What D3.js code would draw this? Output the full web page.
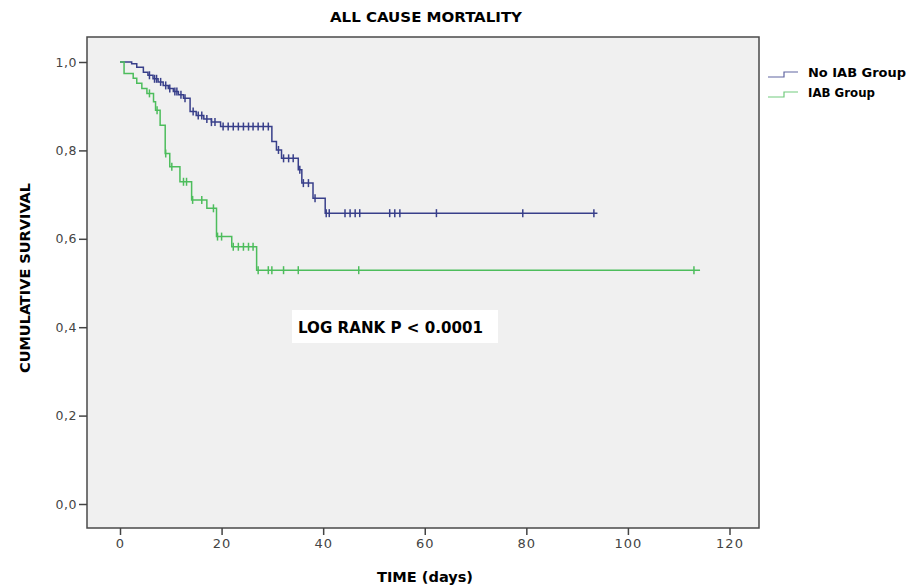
<html lang="en">
<head>
    <meta charset="UTF-8">
    <title>All cause mortality</title>
    <style>
        body { margin: 0; background: #fff; }
        .tick text { font-family: "DejaVu Sans", sans-serif; }
    </style>
</head>
<body>
    <script src="https://d3js.org/d3.v7.min.js"></script>
    <div id="my_dataviz"></div>
    <script>

        // Kaplan-Meier steps (time in days, survival after the drop)
        var noIabTimes = [0, 2.3, 3.3, 4.6, 5.5, 6.5, 7.5, 8.5, 9.5, 10.5, 11.5, 12.5, 13.8, 15, 16.5, 18, 19.8, 29.9, 30.8, 31.8, 35.1, 35.8, 38, 40.4]
        var noIabSurv = [1, 0.996, 0.988, 0.977, 0.97, 0.962, 0.955, 0.947, 0.94, 0.933, 0.926, 0.918, 0.888, 0.879, 0.871, 0.864, 0.854, 0.82, 0.801, 0.782, 0.756, 0.726, 0.692, 0.658]
        var noIabCensor = [5.8, 6.8, 7.2, 8.0, 9.0, 9.8, 10.8, 11.2, 12.0, 12.8, 14.4, 15.4, 16.1, 17.1, 18.0, 18.7, 20.3, 21.3, 22.3, 23.3, 24.3, 25.3, 26.2, 27.2, 28.2, 29.2, 31.2, 32.2, 33.2, 34.1, 35.4, 36.1, 37.1, 38.4, 40.6, 41.2, 44.3, 45.3, 46.3, 47.2, 53.1, 54.1, 55.1, 62.3, 79.3, 93.3]
        var noIabEnd = 94

        var iabTimes = [0, 0.8, 2.6, 3.3, 4.3, 5.3, 6.6, 7.0, 7.9, 8.9, 9.8, 11.8, 14.1, 17.1, 19, 22, 26.9]
        var iabSurv = [1, 0.974, 0.963, 0.952, 0.94, 0.929, 0.91, 0.891, 0.857, 0.793, 0.763, 0.729, 0.688, 0.669, 0.605, 0.582, 0.529]
        var iabCensor = [5.8, 7.3, 9.0, 10.2, 12.5, 13.1, 14.3, 16.1, 18.4, 19.2, 20.0, 22.3, 23.3, 24.3, 25.3, 26.2, 27.2, 29.2, 29.9, 32.2, 35.1, 47.0, 113.0]
        var iabEnd = 114.2

        var groupNames = ["No IAB Group", "IAB Group"]
        var groupColors = ["#383f8a", "#4dbd5c"]
        var xTicks = [0, 20, 40, 60, 80, 100, 120]
        var yTicks = [0, 0.2, 0.4, 0.6, 0.8, 1.0]

        var width = 912
        var height = 586

        var svg = d3.select("#my_dataviz")
            .append("svg")
            .attr("width", width)
            .attr("height", height)

        // plot frame in pixels (window.top is read-only, so other names)
        var plotLeft = 87, plotRight = 759, plotTop = 37, plotBottom = 528

        var x = d3.scaleLinear().domain([0, 120]).range([120, 729.5])
        var y = d3.scaleLinear().domain([0, 1]).range([504, 62])

        svg.append("rect")
            .attr("x", plotLeft).attr("y", plotTop)
            .attr("width", plotRight - plotLeft).attr("height", plotBottom - plotTop)
            .attr("fill", "#f0f0f0")
            .attr("stroke", "#4a4a4a")
            .attr("stroke-width", 1.5)

        // axes
        var xAxis = svg.append("g")
            .attr("transform", "translate(0," + plotBottom + ")")
            .call(d3.axisBottom(x).tickValues(xTicks).tickSize(7).tickPadding(4))
        xAxis.select(".domain").remove()
        xAxis.selectAll("line").attr("stroke", "#444").attr("stroke-width", 1.5)
        xAxis.selectAll("text").style("font-size", "13px").style("letter-spacing", "1px").attr("fill", "#444")

        var yAxis = svg.append("g")
            .attr("transform", "translate(" + plotLeft + ",0)")
            .call(d3.axisLeft(y).tickValues(yTicks).tickSize(8).tickPadding(2)
                .tickFormat(function (d) { return d3.format(".1f")(d).replace(".", ",") }))
        yAxis.select(".domain").remove()
        yAxis.selectAll("line").attr("stroke", "#444").attr("stroke-width", 1.5)
        yAxis.selectAll("text").style("font-size", "12.5px").style("letter-spacing", "0.5px").attr("fill", "#444")

        // step curves
        function stepPoints(times, surv, end) {
            var pts = times.map(function (t, i) { return [t, surv[i]] })
            pts.push([end, surv[surv.length - 1]])
            return pts
        }
        function survAt(times, surv, t) {
            var i = d3.bisectRight(times, t) - 1
            return surv[Math.max(i, 0)]
        }

        var line = d3.line()
            .x(function (d) { return x(d[0]) })
            .y(function (d) { return y(d[1]) })
            .curve(d3.curveStepAfter)

        var groups = [
            { times: noIabTimes, surv: noIabSurv, censor: noIabCensor, end: noIabEnd },
            { times: iabTimes, surv: iabSurv, censor: iabCensor, end: iabEnd }
        ]

        groups.forEach(function (g, gi) {
            svg.append("path")
                .datum(stepPoints(g.times, g.surv, g.end))
                .attr("d", line)
                .attr("fill", "none")
                .attr("stroke", groupColors[gi])
                .attr("stroke-width", 1.5)

            svg.selectAll("censor" + gi)
                .data(g.censor)
                .enter()
                .append("line")
                .attr("x1", function (d) { return x(d) })
                .attr("x2", function (d) { return x(d) })
                .attr("y1", function (d) { return y(survAt(g.times, g.surv, d)) - 4 })
                .attr("y2", function (d) { return y(survAt(g.times, g.surv, d)) + 4 })
                .attr("stroke", groupColors[gi])
                .attr("stroke-width", 1.5)
        })

        // texts
        svg.append("text")
            .attr("x", 426).attr("y", 22)
            .attr("text-anchor", "middle")
            .attr("textLength", 192).attr("lengthAdjust", "spacingAndGlyphs")
            .style("font-family", "'DejaVu Sans Condensed', sans-serif")
            .style("font-weight", "bold").style("font-size", "14px")
            .text("ALL CAUSE MORTALITY")

        svg.append("text")
            .attr("x", 425).attr("y", 582)
            .attr("text-anchor", "middle")
            .attr("textLength", 96).attr("lengthAdjust", "spacingAndGlyphs")
            .style("font-family", "'DejaVu Sans Condensed', sans-serif")
            .style("font-weight", "bold").style("font-size", "14px")
            .text("TIME (days)")

        svg.append("text")
            .attr("transform", "translate(30,278) rotate(-90)")
            .attr("text-anchor", "middle")
            .attr("textLength", 190).attr("lengthAdjust", "spacingAndGlyphs")
            .style("font-family", "'DejaVu Sans Condensed', sans-serif")
            .style("font-weight", "bold").style("font-size", "14px")
            .text("CUMULATIVE SURVIVAL")

        // log rank box
        svg.append("rect")
            .attr("x", 292).attr("y", 310)
            .attr("width", 206).attr("height", 33)
            .attr("fill", "#fff")
        svg.append("text")
            .attr("x", 298).attr("y", 333)
            .attr("textLength", 185).attr("lengthAdjust", "spacingAndGlyphs")
            .style("font-family", "'DejaVu Sans', sans-serif")
            .style("font-weight", "bold").style("font-size", "15px")
            .text("LOG RANK P < 0.0001")

        // legend
        var legend = svg.selectAll("legend")
            .data(groupNames)
            .enter()
            .append("g")
            .attr("transform", function (d, i) { return "translate(768," + (77 + i * 20) + ")" })

        legend.append("path")
            .attr("d", "M0,0 H16 V-5 H30")
            .attr("fill", "none")
            .attr("stroke", function (d, i) { return groupColors[i] })
            .attr("stroke-width", 1.2)
            .attr("opacity", 0.8)

        legend.append("text")
            .attr("x", 40).attr("y", 0)
            .attr("textLength", function (d, i) { return i == 0 ? 98 : 67 })
            .attr("lengthAdjust", "spacingAndGlyphs")
            .style("font-family", "'DejaVu Sans', sans-serif")
            .style("font-weight", "bold").style("font-size", "12px")
            .text(function (d) { return d })

    </script>
</body>
</html>
